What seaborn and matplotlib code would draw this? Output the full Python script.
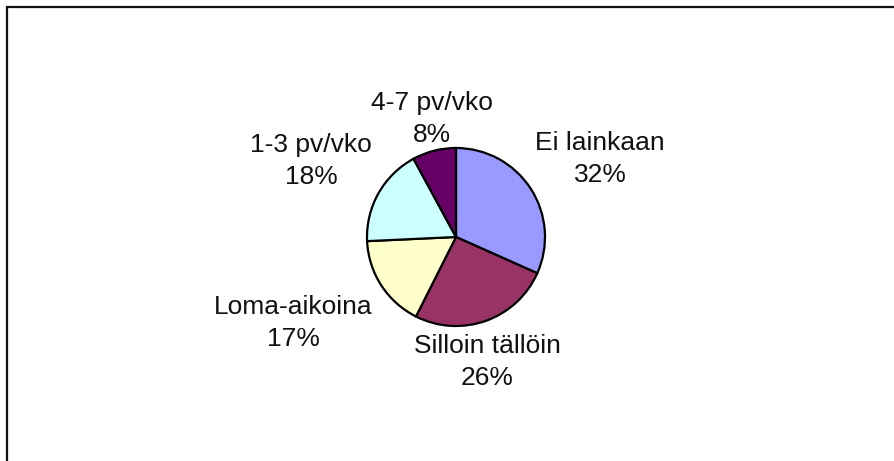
import matplotlib
matplotlib.use('Agg')
import matplotlib.pyplot as plt
import seaborn as sns
from matplotlib.patches import Rectangle

# Chart data
categories = ['Ei lainkaan', 'Silloin tällöin', 'Loma-aikoina', '1-3 pv/vko', '4-7 pv/vko']
shares = [32, 26, 17, 18, 8]
colors = ['#9999FF', '#993366', '#FFFFCC', '#CCFFFF', '#660066']

sns.set_theme(style='white')
plt.rcParams['font.family'] = ['Liberation Sans', 'DejaVu Sans']

W, H = 895, 461
fig = plt.figure(figsize=(W / 100, H / 100), dpi=100)
ax = fig.add_axes([0, 0, 1, 1])
ax.set_xlim(0, W)
ax.set_ylim(0, H)
ax.set_aspect('equal')
ax.axis('off')

# Pie, clockwise from 12 o'clock
ax.pie(shares, colors=sns.color_palette(colors), startangle=90, counterclock=False,
       center=(456, H - 237), radius=89,
       wedgeprops=dict(edgecolor='black', linewidth=1.6))
ax.set_xlim(0, W)
ax.set_ylim(0, H)

# Label positions (pixel centres)
label_pos = [(600, 159), (487, 362), (293, 323), (311, 161), (432, 119)]
for name, val, (x, y) in zip(categories, shares, label_pos):
    ax.text(x, H - y, f'{name}\n{val}%', ha='center', va='center',
            fontsize=19, color='#111111', linespacing=1.42)

# Outer frame (only top/left visible in the crop)
fig.patches.append(Rectangle((7.5 / W, -0.1), 1.2, 1.1 - 7 / H,
                             transform=fig.transFigure, fill=False,
                             edgecolor='#111111', linewidth=1.6))

fig.savefig('out.png', dpi=100, facecolor='white')
